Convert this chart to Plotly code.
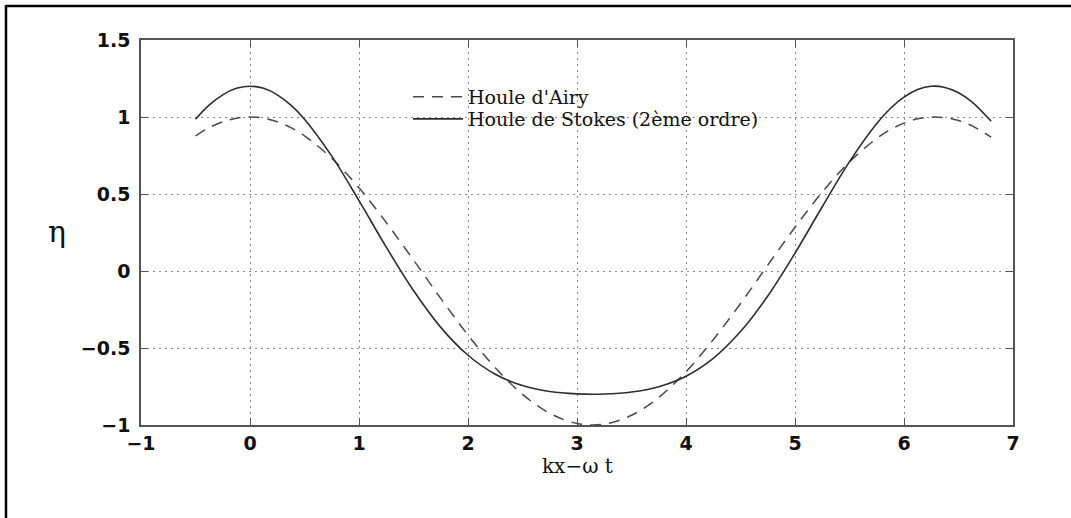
import plotly.graph_objects as go

# ---- data ----
x_vals = [-0.5, -0.375, -0.25, -0.125, 0.0, 0.125, 0.25, 0.375, 0.5, 0.75, 1.0, 1.25, 1.5, 1.75,
          2.0, 2.25, 2.5, 2.75, 3.0, 3.25, 3.5, 3.75, 4.0, 4.25, 4.5, 4.75, 5.0, 5.25, 5.5,
          5.75, 5.875, 6.0, 6.125, 6.25, 6.375, 6.5, 6.625, 6.8]
airy = [0.878, 0.931, 0.969, 0.992, 1.000, 0.992, 0.969, 0.931, 0.878, 0.732, 0.540, 0.315,
        0.071, -0.178, -0.416, -0.628, -0.801, -0.924, -0.990, -0.994, -0.937, -0.821, -0.654,
        -0.446, -0.211, 0.038, 0.284, 0.512, 0.709, 0.861, 0.918, 0.960, 0.988, 0.999, 0.996,
        0.977, 0.942, 0.869]
stokes = [0.986, 1.077, 1.144, 1.186, 1.200, 1.186, 1.144, 1.077, 0.986, 0.746, 0.457, 0.155,
          -0.127, -0.366, -0.547, -0.670, -0.744, -0.783, -0.798, -0.799, -0.786, -0.751,
          -0.683, -0.567, -0.393, -0.162, 0.116, 0.417, 0.710, 0.958, 1.055, 1.129, 1.178,
          1.200, 1.192, 1.158, 1.097, 0.972]
series_names = ["Houle d'Airy", "Houle de Stokes (2ème ordre)"]
x_ticks = [-1, 0, 1, 2, 3, 4, 5, 6, 7]
x_tick_text = ["\u22121", "0", "1", "2", "3", "4", "5", "6", "7"]
y_ticks = [-1, -0.5, 0, 0.5, 1, 1.5]
y_tick_text = ["\u22121", "\u22120.5", "0", "0.5", "1", "1.5"]
x_title = "kx\u2212\u03c9 t"
y_title = "\u03b7"

# ---- layout geometry (pixels) ----
W, H = 1071, 518
L, R, T, B = 141, 1013, 40, 425
pw, ph = R - L, B - T


def px(xp):
    return (xp - L) / pw


def py(yp):
    return (B - yp) / ph


fig = go.Figure()
fig.add_trace(go.Scatter(x=x_vals, y=airy, mode="lines", name=series_names[0], legend="legend",
                         line=dict(color="#4a4a4a", width=1.5, dash="11px,8px", shape="spline")))
fig.add_trace(go.Scatter(x=x_vals, y=stokes, mode="lines", name=series_names[1], legend="legend2",
                         line=dict(color="#2e2e2e", width=1.6, shape="spline")))

tick_font = dict(family="DejaVu Sans", size=19, color="#111111", weight="bold")
axis_common = dict(showline=True, linecolor="#555555", linewidth=1.6, mirror="ticks",
                   ticks="inside", ticklen=7, tickcolor="#555555", tickwidth=1.4,
                   showgrid=True, gridcolor="#8a8a8a", gridwidth=1, griddash="2px,4px",
                   zeroline=False, tickfont=tick_font)

fig.update_xaxes(range=[-1, 7], tickmode="array", tickvals=x_ticks, ticktext=x_tick_text,
                 ticklabelstandoff=0, **axis_common)
fig.update_yaxes(range=[-1, 1.5], tickmode="array", tickvals=y_ticks, ticktext=y_tick_text,
                 ticklabelstandoff=5, **axis_common)

legend_font = dict(family="DejaVu Serif", size=19, color="#111111")
legend_common = dict(xanchor="left", yanchor="middle", bgcolor="rgba(0,0,0,0)",
                     borderwidth=0, itemwidth=50, font=legend_font)

fig.update_layout(
    width=W, height=H,
    margin=dict(l=L, r=W - R, t=T, b=H - B, pad=0),
    paper_bgcolor="white", plot_bgcolor="white",
    showlegend=True,
    legend=dict(x=px(408), y=py(97), **legend_common),
    legend2=dict(x=px(408), y=py(119), **legend_common),
    annotations=[
        dict(text=x_title, xref="paper", yref="paper", x=px(577), y=py(466),
             xanchor="center", yanchor="middle", showarrow=False,
             font=dict(family="DejaVu Serif", size=20, color="#111111")),
        dict(text=y_title, xref="paper", yref="paper", x=px(57), y=py(231),
             xanchor="center", yanchor="middle", showarrow=False,
             font=dict(family="DejaVu Serif", size=30, color="#111111")),
    ],
    shapes=[
        # white legend background box (hides grid behind legend, like the reference)
        dict(type="rect", xref="paper", yref="paper", x0=px(399), x1=px(805),
             y0=py(135), y1=py(76), layer="between",
             fillcolor="white", line=dict(width=0)),
        # outer frame of the picture
        dict(type="line", xref="paper", yref="paper", x0=px(6), x1=px(1080), y0=py(6), y1=py(6),
             line=dict(color="black", width=2.5)),
        dict(type="line", xref="paper", yref="paper", x0=px(6), x1=px(6), y0=py(5), y1=py(530),
             line=dict(color="black", width=2.5)),
    ],
)

fig.write_html("out.html")
